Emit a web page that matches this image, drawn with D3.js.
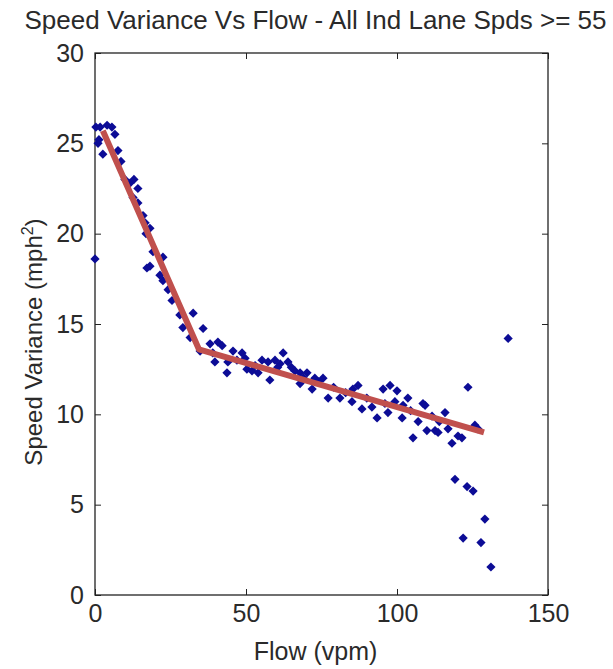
<!DOCTYPE html>
<html>
<head>
<meta charset="utf-8">
<script src="https://cdn.jsdelivr.net/npm/d3@7"></script>
<style>
  body { margin: 0; background: #fff; }
  svg { display: block; }
  .axis text { font-family: "Liberation Sans", Arial, sans-serif; font-size: 25px; fill: #2a2a2a; }
  .axis path { display: none; }
  .axis line { stroke: #222; }
</style>
</head>
<body>
<div id="chart"></div>
<script>
// flow (vpm) of each observation
const flow = [
  0.0, 0.3, 1.7, 4.0, 5.6, 6.6, 1.0, 1.3, 2.6, 7.6,
  8.6, 9.9, 11.6, 12.9, 14.2, 12.6, 14.2, 15.9, 16.6, 18.2,
  16.9, 19.2, 22.5, 18.2, 17.2, 21.5, 22.5, 24.2, 25.5, 28.1,
  32.5, 29.1, 35.8, 31.5, 34.8, 38.1, 40.7, 42.1, 39.7, 43.7,
  44.0, 45.7, 48.7, 49.7, 50.3, 52.0, 54.0, 55.3, 57.3, 57.9,
  59.6, 62.3, 61.3, 63.9, 66.2, 67.9, 70.2, 67.9, 71.9, 72.8,
  75.5, 77.2, 81.1, 85.1, 87.1, 85.4, 88.4, 91.7, 93.4, 95.4,
  97.7, 100.0, 97.0, 99.3, 101.7, 103.6, 102.0, 107.0, 108.6, 109.9,
  105.3, 109.3, 115.9, 111.6, 112.6, 113.6, 116.9, 120.2, 121.5, 118.2,
  125.8, 126.8, 123.5, 136.8, 119.2, 123.2, 125.2, 129.1, 121.9, 127.8,
  131.1, 39.0, 47.0, 53.0, 60.5, 65.0, 69.0, 74.0, 79.0, 83.0,
  90.0, 96.0, 104.5, 114.0
];
// speed variance (mph^2) of each observation
const variance = [
  18.6, 25.9, 25.9, 26.0, 25.9, 25.5, 25.0, 25.2, 24.4, 24.6,
  24.0, 23.0, 22.8, 23.0, 22.5, 22.0, 21.7, 21.0, 20.6, 20.3,
  20.0, 19.0, 18.7, 18.2, 18.1, 17.7, 17.4, 16.9, 16.3, 15.5,
  15.6, 14.8, 14.75, 14.25, 13.5, 13.9, 14.0, 13.8, 12.9, 12.3,
  12.9, 13.5, 13.4, 13.1, 12.5, 12.4, 12.3, 13.0, 12.9, 11.9,
  13.0, 13.4, 12.8, 12.9, 12.4, 12.3, 12.3, 11.7, 11.4, 12.0,
  12.0, 10.9, 10.9, 10.7, 11.6, 11.4, 10.3, 10.4, 9.8, 11.4,
  11.6, 11.3, 10.1, 10.7, 9.8, 10.9, 10.5, 9.6, 10.6, 9.1,
  8.7, 10.5, 10.1, 9.9, 9.1, 9.0, 9.2, 8.8, 8.7, 8.4,
  9.4, 9.2, 11.5, 14.2, 6.4, 6.0, 5.75, 4.2, 3.15, 2.9,
  1.55, 13.4, 13.0, 12.7, 12.6, 12.6, 12.0, 11.8, 11.5, 11.2,
  10.9, 10.6, 10.2, 9.6
];
// piecewise linear fit
const fitFlow = [2.6, 34.4, 128.8];
const fitVariance = [25.7, 13.6, 9.0];

const xTicks = [0, 50, 100, 150];
const yTicks = [0, 5, 10, 15, 20, 25, 30];

const width = 613, height = 669;
const margin = { top: 53, right: 65, bottom: 74, left: 95 };
const w = width - margin.left - margin.right;
const h = height - margin.top - margin.bottom;

const svg = d3.select("#chart").append("svg")
    .attr("width", width)
    .attr("height", height);

const g = svg.append("g")
    .attr("transform", "translate(" + margin.left + "," + margin.top + ")");

const x = d3.scaleLinear().domain([0, 150]).range([0, w]);
const y = d3.scaleLinear().domain([0, 30]).range([h, 0]);

// ticks point inwards, MATLAB style
g.append("g").attr("class", "axis")
    .attr("transform", "translate(0," + h + ")")
    .call(d3.axisBottom(x).tickValues(xTicks).tickSize(-6).tickSizeOuter(0).tickPadding(9));
g.append("g").attr("class", "axis")
    .call(d3.axisTop(x).tickValues(xTicks).tickSize(-6).tickSizeOuter(0).tickFormat(""));
g.append("g").attr("class", "axis")
    .call(d3.axisLeft(y).tickValues(yTicks).tickSize(-6).tickSizeOuter(0).tickPadding(11));
g.append("g").attr("class", "axis")
    .attr("transform", "translate(" + w + ",0)")
    .call(d3.axisRight(y).tickValues(yTicks).tickSize(-6).tickSizeOuter(0).tickFormat(""));

g.append("rect")
    .attr("width", w)
    .attr("height", h)
    .attr("fill", "none")
    .attr("stroke", "#222")
    .attr("stroke-width", 1.3);

const points = flow.map((f, i) => [f, variance[i]]);
const diamond = d3.symbol().type(d3.symbolDiamond2).size(54);

g.append("g")
    .selectAll("path")
    .data(points)
    .enter().append("path")
    .attr("d", diamond)
    .attr("transform", d => "translate(" + x(d[0]) + "," + y(d[1]) + ")")
    .attr("fill", "#0c0c96");

const fit = fitFlow.map((f, i) => [f, fitVariance[i]]);
g.append("path")
    .datum(fit)
    .attr("fill", "none")
    .attr("stroke", "#c0504d")
    .attr("stroke-width", 6)
    .attr("stroke-linejoin", "round")
    .attr("d", d3.line().x(d => x(d[0])).y(d => y(d[1])));

const font = "'Liberation Sans', Arial, sans-serif";

svg.append("text")
    .attr("x", margin.left + w / 2 - 6)
    .attr("y", 29)
    .attr("text-anchor", "middle")
    .style("font-family", font)
    .style("font-size", "26px")
    .style("fill", "#2a2a2a")
    .text("Speed Variance Vs Flow - All Ind Lane Spds >= 55");

svg.append("text")
    .attr("x", margin.left + w / 2 - 6)
    .attr("y", 660)
    .attr("text-anchor", "middle")
    .style("font-family", font)
    .style("font-size", "25px")
    .style("fill", "#2a2a2a")
    .text("Flow (vpm)");

const yl = svg.append("text")
    .attr("transform", "translate(42," + (margin.top + h / 2 + 18) + ") rotate(-90)")
    .attr("text-anchor", "middle")
    .style("font-family", font)
    .style("font-size", "24px")
    .style("fill", "#2a2a2a");
yl.append("tspan").text("Speed Variance (mph");
yl.append("tspan").attr("dy", -9).style("font-size", "16px").text("2");
yl.append("tspan").attr("dy", 9).text(")");
</script>
</body>
</html>
